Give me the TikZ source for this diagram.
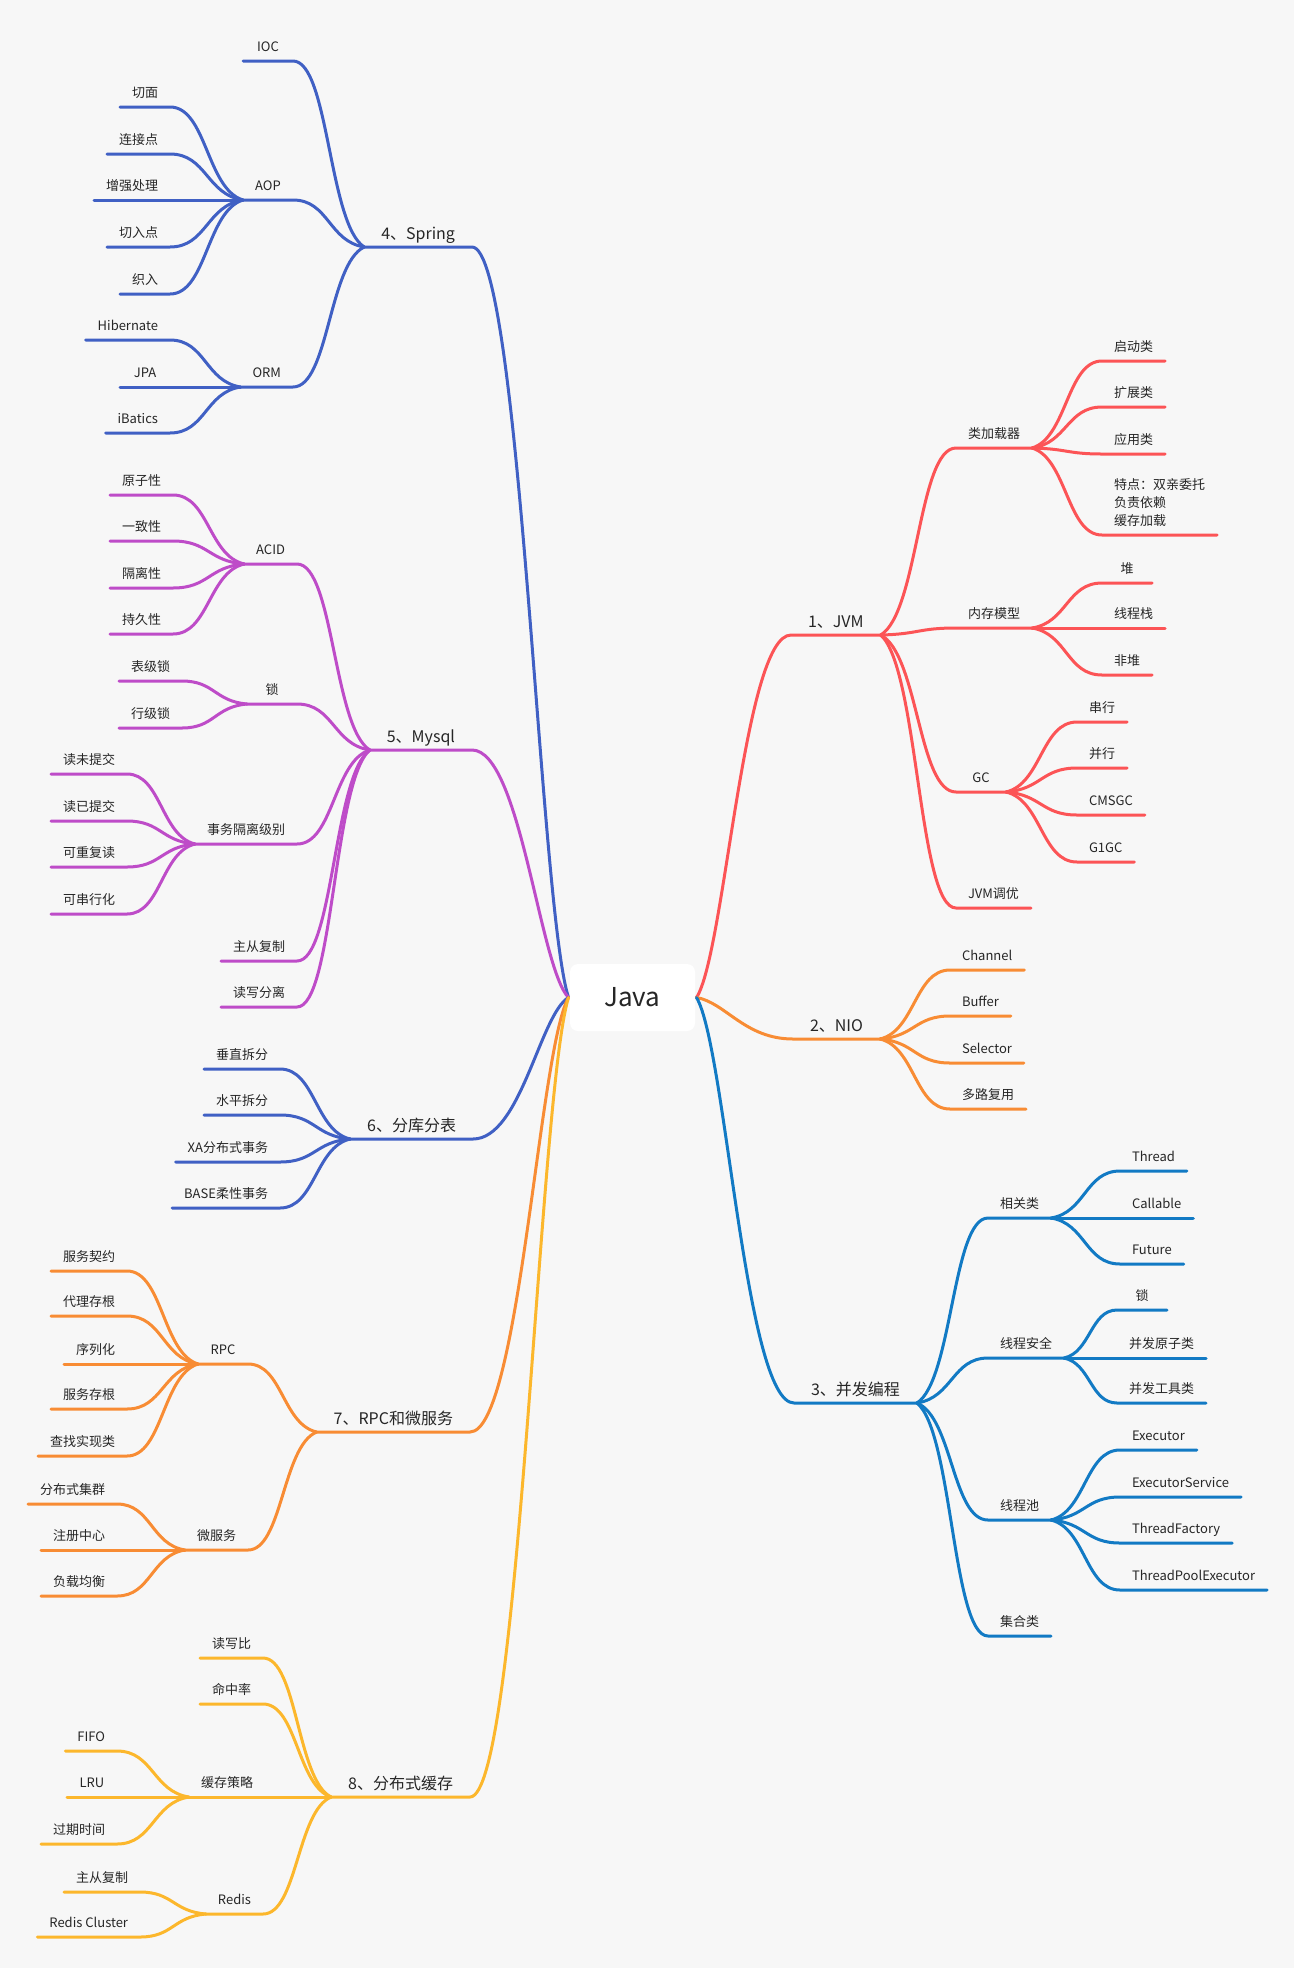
\documentclass[tikz,border=0pt]{standalone}
\usepackage{fontspec}
\setmainfont{Noto Sans CJK SC}
\usetikzlibrary{calc}

\definecolor{bg}{RGB}{247,247,247}
\definecolor{txt}{RGB}{38,38,38}
\definecolor{jvmred}{RGB}{252,84,86}
\definecolor{nioorange}{RGB}{248,140,52}
\definecolor{concblue}{RGB}{18,122,196}
\definecolor{springblue}{RGB}{64,96,196}
\definecolor{sqlpurple}{RGB}{190,76,200}
\definecolor{cacheyellow}{RGB}{252,183,44}

% curve from a junction to the near end of a child's underline, then the underline
\newcommand{\conn}[4][0.5]{%
  \draw let \p1=(#2), \p2=(#3) in (\p1) .. controls ({\x1+#1*(\x2-\x1)},{\y1+0.12*(\y2-\y1)}) and ({0.5*(\x1+\x2)},\y2) .. (\p2) -- (#4);}

\begin{document}
\begin{tikzpicture}[x=1pt, y=-1pt, line width=3pt, line cap=round,
javanode/.style={fill=white, rounded corners=8pt, minimum width=125pt, minimum height=67pt, font=\fontsize{26}{30}\selectfont, text=txt},
mainnode/.style={font=\fontsize{16}{20}\selectfont, text=txt, inner xsep=17pt, inner ysep=8pt, text depth=0pt, outer sep=0pt},
subnode/.style={font=\fontsize{13}{18}\selectfont, text=txt, inner xsep=12pt, inner ysep=10pt, text depth=0pt, outer sep=0pt, minimum width=50pt},
lside/.style={anchor=south east},
rside/.style={anchor=south west},
]
\fill[bg] (0,0) rectangle (1294,1968);
\useasboundingbox (0,0) rectangle (1294,1968);

\node[javanode] (java) at (632.5,997.5) {Java};

% 1 JVM
\begin{scope}[color=jvmred]
\node[mainnode, rside] (jvm) at (791,635) {1、JVM};
\node[subnode, rside] (clsld) at (956,448) {类加载器};
\node[subnode, rside] (qdl) at (1102,361) {启动类};
\node[subnode, rside] (kzl) at (1102,407) {扩展类};
\node[subnode, rside] (yyl) at (1102,454) {应用类};
\node[subnode, rside, align=left] (tedian) at (1102,535) {特点：双亲委托\\负责依赖\\缓存加载};
\node[subnode, rside] (memm) at (956,628) {内存模型};
\node[subnode, rside] (heap) at (1102,583) {堆};
\node[subnode, rside] (stack) at (1102,628) {线程栈};
\node[subnode, rside] (nonheap) at (1102,675) {非堆};
\node[subnode, rside] (gc) at (956,792) {GC};
\node[subnode, rside] (serial) at (1077,722) {串行};
\node[subnode, rside] (parallel) at (1077,768) {并行};
\node[subnode, rside] (cms) at (1077,815) {CMSGC};
\node[subnode, rside] (g1) at (1077,862) {G1GC};
\node[subnode, rside] (jvmtune) at (956,908) {JVM调优};

\conn[0.3]{java.east}{jvm.south west}{jvm.south east}
\conn{jvm.south east}{clsld.south west}{clsld.south east}
\conn{jvm.south east}{memm.south west}{memm.south east}
\conn{jvm.south east}{gc.south west}{gc.south east}
\conn{jvm.south east}{jvmtune.south west}{jvmtune.south east}
\conn{clsld.south east}{qdl.south west}{qdl.south east}
\conn{clsld.south east}{kzl.south west}{kzl.south east}
\conn{clsld.south east}{yyl.south west}{yyl.south east}
\conn{clsld.south east}{tedian.south west}{tedian.south east}
\conn{memm.south east}{heap.south west}{heap.south east}
\conn{memm.south east}{stack.south west}{stack.south east}
\conn{memm.south east}{nonheap.south west}{nonheap.south east}
\conn{gc.south east}{serial.south west}{serial.south east}
\conn{gc.south east}{parallel.south west}{parallel.south east}
\conn{gc.south east}{cms.south west}{cms.south east}
\conn{gc.south east}{g1.south west}{g1.south east}
\end{scope}

% 2 NIO
\begin{scope}[color=nioorange]
\node[mainnode, rside] (nio) at (793,1039) {2、NIO};
\node[subnode, rside] (channel) at (950,970) {Channel};
\node[subnode, rside] (buffer) at (950,1016) {Buffer};
\node[subnode, rside] (selector) at (950,1063) {Selector};
\node[subnode, rside] (mux) at (950,1109) {多路复用};

\conn[0.3]{java.east}{nio.south west}{nio.south east}
\conn{nio.south east}{channel.south west}{channel.south east}
\conn{nio.south east}{buffer.south west}{buffer.south east}
\conn{nio.south east}{selector.south west}{selector.south east}
\conn{nio.south east}{mux.south west}{mux.south east}
\end{scope}

% 3 concurrency
\begin{scope}[color=concblue]
\node[mainnode, rside] (conc) at (794,1403) {3、并发编程};
\node[subnode, rside] (xgl) at (988,1218) {相关类};
\node[subnode, rside] (thread) at (1120,1171) {Thread};
\node[subnode, rside] (callable) at (1120,1218) {Callable};
\node[subnode, rside] (future) at (1120,1264) {Future};
\node[subnode, rside] (xcaq) at (988,1358) {线程安全};
\node[subnode, rside] (clock) at (1117,1310) {锁};
\node[subnode, rside] (atomic) at (1117,1358) {并发原子类};
\node[subnode, rside] (tools) at (1117,1403) {并发工具类};
\node[subnode, rside] (pool) at (988,1520) {线程池};
\node[subnode, rside] (executor) at (1120,1450) {Executor};
\node[subnode, rside] (exsvc) at (1120,1497) {ExecutorService};
\node[subnode, rside] (tfactory) at (1120,1543) {ThreadFactory};
\node[subnode, rside] (tpexec) at (1120,1590) {ThreadPoolExecutor};
\node[subnode, rside] (jhl) at (988,1636) {集合类};

\conn[0.3]{java.east}{conc.south west}{conc.south east}
\conn{conc.south east}{xgl.south west}{xgl.south east}
\conn{conc.south east}{xcaq.south west}{xcaq.south east}
\conn{conc.south east}{pool.south west}{pool.south east}
\conn{conc.south east}{jhl.south west}{jhl.south east}
\conn{xgl.south east}{thread.south west}{thread.south east}
\conn{xgl.south east}{callable.south west}{callable.south east}
\conn{xgl.south east}{future.south west}{future.south east}
\conn{xcaq.south east}{clock.south west}{clock.south east}
\conn{xcaq.south east}{atomic.south west}{atomic.south east}
\conn{xcaq.south east}{tools.south west}{tools.south east}
\conn{pool.south east}{executor.south west}{executor.south east}
\conn{pool.south east}{exsvc.south west}{exsvc.south east}
\conn{pool.south east}{tfactory.south west}{tfactory.south east}
\conn{pool.south east}{tpexec.south west}{tpexec.south east}
\end{scope}

% 4 Spring
\begin{scope}[color=springblue]
\node[mainnode, lside] (spring) at (472,247) {4、Spring};
\node[subnode, lside] (ioc) at (293,61) {IOC};
\node[subnode, lside] (aop) at (293,200) {AOP};
\node[subnode, lside] (qm) at (170,107) {切面};
\node[subnode, lside] (ljd) at (170,154) {连接点};
\node[subnode, lside] (zqcl) at (170,200) {增强处理};
\node[subnode, lside] (crd) at (170,247) {切入点};
\node[subnode, lside] (zr) at (170,294) {织入};
\node[subnode, lside] (orm) at (293,387) {ORM};
\node[subnode, lside] (hib) at (170,340) {Hibernate};
\node[subnode, lside] (jpa) at (170,387) {JPA};
\node[subnode, lside] (iba) at (170,433) {iBatics};

\conn[0.3]{java.west}{spring.south east}{spring.south west}
\conn{spring.south west}{ioc.south east}{ioc.south west}
\conn{spring.south west}{aop.south east}{aop.south west}
\conn{spring.south west}{orm.south east}{orm.south west}
\conn{aop.south west}{qm.south east}{qm.south west}
\conn{aop.south west}{ljd.south east}{ljd.south west}
\conn{aop.south west}{zqcl.south east}{zqcl.south west}
\conn{aop.south west}{crd.south east}{crd.south west}
\conn{aop.south west}{zr.south east}{zr.south west}
\conn{orm.south west}{hib.south east}{hib.south west}
\conn{orm.south west}{jpa.south east}{jpa.south west}
\conn{orm.south west}{iba.south east}{iba.south west}
\end{scope}

% 5 Mysql
\begin{scope}[color=sqlpurple]
\node[mainnode, lside] (mysql) at (472,750) {5、Mysql};
\node[subnode, lside] (acid) at (297,564) {ACID};
\node[subnode, lside] (ymz) at (173,495) {原子性};
\node[subnode, lside] (yzx) at (173,541) {一致性};
\node[subnode, lside] (glx) at (173,588) {隔离性};
\node[subnode, lside] (cjx) at (173,634) {持久性};
\node[subnode, lside] (lock) at (297,704) {锁};
\node[subnode, lside] (bjs) at (182,681) {表级锁};
\node[subnode, lside] (hjs) at (182,728) {行级锁};
\node[subnode, lside] (txiso) at (297,844) {事务隔离级别};
\node[subnode, lside] (dwtj) at (127,774) {读未提交};
\node[subnode, lside] (dytj) at (127,821) {读已提交};
\node[subnode, lside] (kcfd) at (127,867) {可重复读};
\node[subnode, lside] (kcxh) at (127,914) {可串行化};
\node[subnode, lside] (zcfz) at (297,961) {主从复制};
\node[subnode, lside] (dxfl) at (297,1007) {读写分离};

\conn[0.3]{java.west}{mysql.south east}{mysql.south west}
\conn{mysql.south west}{acid.south east}{acid.south west}
\conn{mysql.south west}{lock.south east}{lock.south west}
\conn{mysql.south west}{txiso.south east}{txiso.south west}
\conn{mysql.south west}{zcfz.south east}{zcfz.south west}
\conn{mysql.south west}{dxfl.south east}{dxfl.south west}
\conn{acid.south west}{ymz.south east}{ymz.south west}
\conn{acid.south west}{yzx.south east}{yzx.south west}
\conn{acid.south west}{glx.south east}{glx.south west}
\conn{acid.south west}{cjx.south east}{cjx.south west}
\conn{lock.south west}{bjs.south east}{bjs.south west}
\conn{lock.south west}{hjs.south east}{hjs.south west}
\conn{txiso.south west}{dwtj.south east}{dwtj.south west}
\conn{txiso.south west}{dytj.south east}{dytj.south west}
\conn{txiso.south west}{kcfd.south east}{kcfd.south west}
\conn{txiso.south west}{kcxh.south east}{kcxh.south west}
\end{scope}

% 6 sharding
\begin{scope}[color=springblue]
\node[mainnode, lside] (fkfb) at (473,1139) {6、分库分表};
\node[subnode, lside] (czcf) at (280,1069) {垂直拆分};
\node[subnode, lside] (spcf) at (280,1115) {水平拆分};
\node[subnode, lside] (xatx) at (280,1162) {XA分布式事务};
\node[subnode, lside] (basetx) at (280,1208) {BASE柔性事务};

\conn[0.3]{java.west}{fkfb.south east}{fkfb.south west}
\conn{fkfb.south west}{czcf.south east}{czcf.south west}
\conn{fkfb.south west}{spcf.south east}{spcf.south west}
\conn{fkfb.south west}{xatx.south east}{xatx.south west}
\conn{fkfb.south west}{basetx.south east}{basetx.south west}
\end{scope}

% 7 RPC
\begin{scope}[color=nioorange]
\node[mainnode, lside] (rpcms) at (470,1432) {7、RPC和微服务};
\node[subnode, lside] (rpc) at (248,1364) {RPC};
\node[subnode, lside] (fwqy) at (127,1271) {服务契约};
\node[subnode, lside] (dlcg) at (127,1316) {代理存根};
\node[subnode, lside] (xlh) at (127,1364) {序列化};
\node[subnode, lside] (fwcg) at (127,1409) {服务存根};
\node[subnode, lside] (czsx) at (127,1456) {查找实现类};
\node[subnode, lside] (wfw) at (248,1550) {微服务};
\node[subnode, lside] (fbsjq) at (117,1504) {分布式集群};
\node[subnode, lside] (zczx) at (117,1550) {注册中心};
\node[subnode, lside] (fzjh) at (117,1596) {负载均衡};

\conn[0.3]{java.west}{rpcms.south east}{rpcms.south west}
\conn{rpcms.south west}{rpc.south east}{rpc.south west}
\conn{rpcms.south west}{wfw.south east}{wfw.south west}
\conn{rpc.south west}{fwqy.south east}{fwqy.south west}
\conn{rpc.south west}{dlcg.south east}{dlcg.south west}
\conn{rpc.south west}{xlh.south east}{xlh.south west}
\conn{rpc.south west}{fwcg.south east}{fwcg.south west}
\conn{rpc.south west}{czsx.south east}{czsx.south west}
\conn{wfw.south west}{fbsjq.south east}{fbsjq.south west}
\conn{wfw.south west}{zczx.south east}{zczx.south west}
\conn{wfw.south west}{fzjh.south east}{fzjh.south west}
\end{scope}

% 8 cache
\begin{scope}[color=cacheyellow]
\node[mainnode, lside] (cache) at (470,1797) {8、分布式缓存};
\node[subnode, lside] (dxb) at (263,1658) {读写比};
\node[subnode, lside] (mzl) at (263,1704) {命中率};
\node[subnode, lside] (hccl) at (265,1797) {缓存策略};
\node[subnode, lside] (fifo) at (117,1751) {FIFO};
\node[subnode, lside] (lru) at (117,1797) {LRU};
\node[subnode, lside] (gqsj) at (117,1844) {过期时间};
\node[subnode, lside] (redis) at (263,1914) {Redis};
\node[subnode, lside] (rzcfz) at (140,1892) {主从复制};
\node[subnode, lside] (cluster) at (140,1937) {Redis Cluster};

\conn[0.3]{java.west}{cache.south east}{cache.south west}
\conn{cache.south west}{dxb.south east}{dxb.south west}
\conn{cache.south west}{mzl.south east}{mzl.south west}
\conn{cache.south west}{hccl.south east}{hccl.south west}
\conn{cache.south west}{redis.south east}{redis.south west}
\conn{hccl.south west}{fifo.south east}{fifo.south west}
\conn{hccl.south west}{lru.south east}{lru.south west}
\conn{hccl.south west}{gqsj.south east}{gqsj.south west}
\conn{redis.south west}{rzcfz.south east}{rzcfz.south west}
\conn{redis.south west}{cluster.south east}{cluster.south west}
\end{scope}
\end{tikzpicture}
\end{document}
